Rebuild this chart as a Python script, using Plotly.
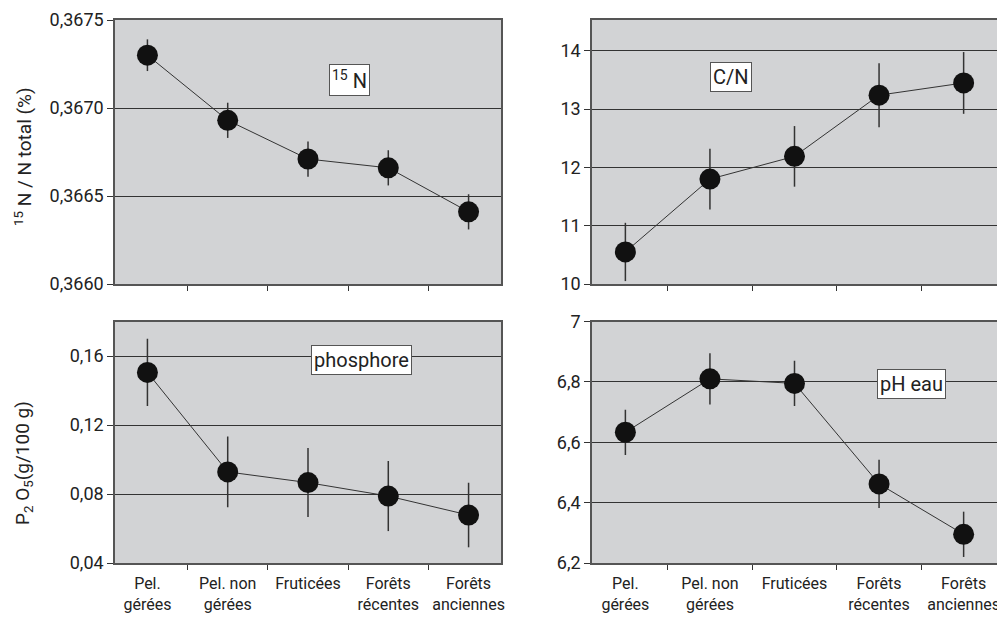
import plotly.graph_objects as go

categories = ["Pel.<br>gérées", "Pel. non<br>gérées", "Fruticées", "Forêts<br>récentes", "Forêts<br>anciennes"]

n15 = [0.36730, 0.36693, 0.36671, 0.36666, 0.36641]
n15_err = [0.00009, 0.00010, 0.00010, 0.00010, 0.00010]
cn = [10.55, 11.80, 12.19, 13.24, 13.45]
cn_err = [0.50, 0.52, 0.52, 0.55, 0.53]
p2o5 = [0.1505, 0.0928, 0.0866, 0.0788, 0.0678]
p2o5_err = [0.0195, 0.0205, 0.0200, 0.0203, 0.0187]
ph = [6.633, 6.810, 6.795, 6.462, 6.295]
ph_err = [0.075, 0.085, 0.075, 0.080, 0.075]

FONT = "Roboto"
W, H = 997, 618
BG = "#d2d3d5"
DARK = "#333333"

fig = go.Figure()

panels = [
    (n15, n15_err, "x", "y"),
    (cn, cn_err, "x2", "y2"),
    (p2o5, p2o5_err, "x3", "y3"),
    (ph, ph_err, "x4", "y4"),
]
for vals, errs, xa, ya in panels:
    fig.add_trace(go.Scatter(
        x=categories, y=vals, xaxis=xa, yaxis=ya, mode="lines+markers",
        line=dict(color=DARK, width=1),
        marker=dict(color="#111111", size=21),
        error_y=dict(type="data", array=errs, visible=True, width=0,
                     thickness=1.5, color=DARK),
        showlegend=False, cliponaxis=False,
    ))

def px_x(p):
    return p / W

def px_y(p):
    return 1 - p / H

xl = [px_x(115), px_x(501)]
xr = [px_x(592), 1.0]
yt = [px_y(284), px_y(20)]
yb = [px_y(563), px_y(321.5)]

def xaxis(domain, anchor, labels):
    return dict(domain=domain, anchor=anchor, type="category",
                categoryorder="array", categoryarray=categories,
                tickson="boundaries", ticks="outside", ticklen=5,
                tickcolor=DARK, tickwidth=1.3, showgrid=False, tickangle=0,
                ticklabelstandoff=5,
                showline=True, linecolor="#555555", linewidth=1.5, mirror=True,
                showticklabels=labels, zeroline=False,
                tickfont=dict(family=FONT, size=16, color="#222"))

def yaxis(domain, anchor, rng, dtick, tick0, fmt):
    return dict(domain=domain, anchor=anchor, range=rng, dtick=dtick, tick0=tick0,
                tickformat=fmt, ticks="outside", ticklen=6, tickcolor=DARK,
                tickwidth=1.3, showgrid=True, gridcolor=DARK, gridwidth=1.3,
                showline=True, linecolor="#555555", linewidth=1.5, mirror=True,
                zeroline=False, tickfont=dict(family=FONT, size=18, color="#222"))

fig.update_layout(
    width=W, height=H, margin=dict(l=0, r=0, t=0, b=0, autoexpand=False),
    paper_bgcolor="white", plot_bgcolor=BG, separators=", ",
    xaxis=xaxis(xl, "y", False),
    yaxis=yaxis(yt, "x", [0.3660, 0.3675], 0.0005, 0.3660, ".4f"),
    xaxis2=xaxis(xr, "y2", False),
    yaxis2=yaxis(yt, "x2", [10, 14.53], 1, 10, "d"),
    xaxis3=xaxis(xl, "y3", True),
    yaxis3=yaxis(yb, "x3", [0.04, 0.18], 0.04, 0.04, ".2f"),
    xaxis4=xaxis(xr, "y4", True),
    yaxis4=yaxis(yb, "x4", [6.2, 7.0], 0.2, 6.2, ""),
)

box = dict(xref="paper", yref="paper", showarrow=False, bgcolor="white",
           xanchor="center", yanchor="middle",
           bordercolor="#555555", borderwidth=1, borderpad=2,
           font=dict(family=FONT, size=20, color="#222"))
fig.add_annotation(text="<sup>15</sup> N", x=px_x(349.5), y=px_y(80), **box)
fig.add_annotation(text="C/N", x=px_x(731), y=px_y(77), **box)
fig.add_annotation(text="phosphore", x=px_x(361), y=px_y(360), **box)
fig.add_annotation(text="pH eau", x=px_x(911), y=px_y(383.5), **box)

ttl = dict(xref="paper", yref="paper", showarrow=False, textangle=-90,
           xanchor="center", yanchor="middle",
           font=dict(family=FONT, size=19, color="#222"))
fig.add_annotation(text="<sup>15</sup> N / N total (%)", x=px_x(23), y=px_y(157), **ttl)
fig.add_annotation(text="P<sub>2</sub> O<sub>5</sub>(g/100 g)", x=px_x(23), y=px_y(463), **ttl)

fig.write_html(
    "out.html",
    config={"displayModeBar": False},
    post_script="document.body.style.margin='0';document.body.style.overflow='hidden';",
)
